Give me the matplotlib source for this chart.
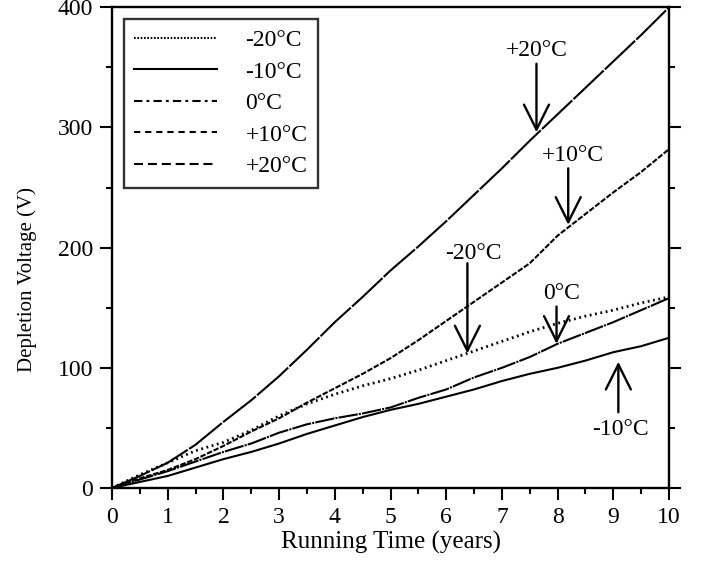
import matplotlib
matplotlib.use("Agg")
import matplotlib.pyplot as plt
from matplotlib.lines import Line2D
from matplotlib.ticker import MultipleLocator

plt.rcParams["font.family"] = ["Liberation Serif", "DejaVu Serif"]
plt.rcParams["lines.scale_dashes"] = False

# --- data (years, volts) ---
years = [0, 0.5, 1, 1.5, 2, 2.5, 3, 3.5, 4, 4.5, 5,
         5.5, 6, 6.5, 7, 7.5, 8, 8.5, 9, 9.5, 10]
v_m20 = [0, 11, 21, 31, 38, 48, 60, 70, 78, 85, 91,
         98, 106, 114, 122, 130, 137, 143, 148, 154, 159]
v_m10 = [0, 5, 10, 17, 24, 30, 37, 45, 52, 59, 65,
         70, 76, 82, 89, 95, 100, 106, 113, 118, 125]
v_0 = [0, 7, 14, 22, 30, 37, 46, 53, 58, 62, 67,
       75, 82, 92, 100, 109, 120, 129, 138, 148, 158]
v_p10 = [0, 8, 15, 24, 35, 47, 58, 71, 83, 95, 108,
         123, 139, 155, 171, 187, 210, 228, 246, 263, 282]
v_p20 = [0, 10, 21, 36, 55, 73, 93, 115, 138, 159, 181,
         201, 222, 244, 266, 289, 311, 333, 355, 377, 400]

labels = ["-20°C", "-10°C", "0°C", "+10°C", "+20°C"]

# labels with vertical arrows: (text, text x, text y, arrow x, arrow start y, arrow tip y)
notes = [
    ("+20°C", 7.62, 364, 7.62, 353, 296),
    ("+10°C", 8.28, 277, 8.19, 266, 219),
    ("-20°C", 6.49, 195, 6.38, 187, 112),
    ("0°C", 8.07, 162, 7.98, 151, 120),
    ("-10°C", 9.12, 49, 9.09, 63, 105),
]

# line styles on the curves, and the cleaner ones shown in the legend
curve_dash = [(0, (1.3, 2.6)), "-", (0, (14, 0.8, 1.5, 0.8)), (0, (4, 1.2)), (0, (30, 1.2))]
curve_lw = [2.0, 1.5, 1.5, 1.5, 1.5]
legend_dash = [(0, (1.2, 1.2)), "-", (0, (6, 3, 2, 3)), (0, (4.5, 3.5)), (0, (6.5, 3.5))]

series = [v_m20, v_m10, v_0, v_p10, v_p20]

fig = plt.figure(figsize=(7.11, 5.70), dpi=100)
ax = fig.add_axes([0.1575, 0.1439, 0.7835, 0.8433])

for vals, ls, lw in zip(series, curve_dash, curve_lw):
    ax.plot(years, vals, color="black", lw=lw, linestyle=ls)

ax.set_xlim(0, 10)
ax.set_ylim(0, 400)
ax.xaxis.set_major_locator(MultipleLocator(1))
ax.xaxis.set_minor_locator(MultipleLocator(0.5))
ax.yaxis.set_major_locator(MultipleLocator(100))
ax.yaxis.set_minor_locator(MultipleLocator(50))
ax.tick_params(which="both", direction="out", width=1.5, top=False,
               right=True, labelsize=17, pad=5)
ax.tick_params(which="major", length=8.6)
ax.tick_params(which="minor", length=4.3)
for s in ax.spines.values():
    s.set_linewidth(1.7)

ax.set_xlabel("Running Time (years)", fontsize=18, labelpad=2)
ax.set_ylabel("Depletion Voltage (V)", fontsize=15)
ax.yaxis.set_label_coords(-0.135, 0.433)

for txt, tx, ty, ax_x, y0, y1 in notes:
    ax.text(tx, ty, txt, ha="center", va="center", fontsize=17)
    ax.annotate("", xy=(ax_x, y1), xytext=(ax_x, y0),
                arrowprops=dict(arrowstyle="->,head_length=0.9,head_width=0.45",
                                mutation_scale=20, color="black", lw=1.7,
                                shrinkA=0, shrinkB=0))

handles = [Line2D([], [], color="black", lw=1.5, linestyle=ls) for ls in legend_dash]
leg = ax.legend(handles, labels, loc="upper left", bbox_to_anchor=(0.0, 1.0),
                fontsize=17, frameon=True, fancybox=False, handlelength=3.5,
                handletextpad=1.2, labelspacing=0.42, borderpad=0.45,
                borderaxespad=0.5)
leg.get_frame().set_edgecolor("black")
leg.get_frame().set_linewidth(1.7)

fig.savefig("out.png", dpi=100)
